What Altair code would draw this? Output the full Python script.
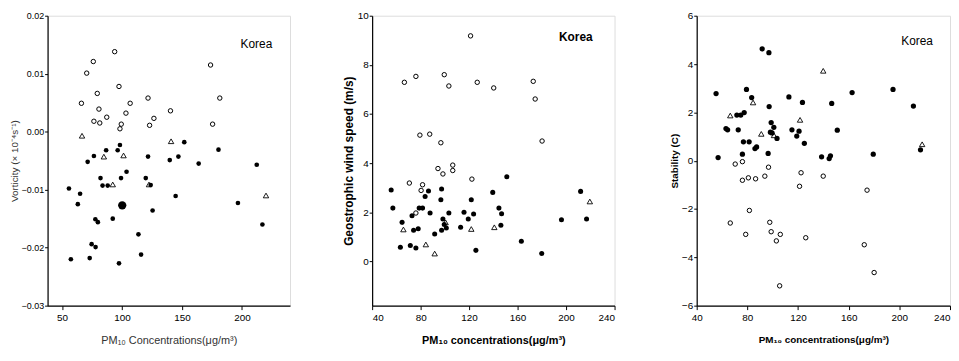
import altair as alt
import pandas as pd

# ---------------- Panel 1: vorticity ----------------
p1_open_x = [93.9, 76.1, 70.6, 97.5, 79.4, 66.2, 80.8, 106.8, 121.7, 103.3, 87.3, 76.6, 81.5, 99.4, 98.3, 126.6, 123.0, 140.4, 173.8, 181.5, 175.5]
p1_open_y = [0.0138, 0.0121, 0.0101, 0.0078, 0.0066, 0.0049, 0.0039, 0.0049, 0.0058, 0.0032, 0.0025, 0.0018, 0.0015, 0.0013, 0.0005, 0.0023, 0.0011, 0.0036, 0.0115, 0.0058, 0.0013]
p1_tri_x = [66.7, 84.9, 101.3, 92.3, 122.5, 140.9, 220.0]
p1_tri_y = [-0.0007, -0.0043, -0.0041, -0.0091, -0.0091, -0.00165, -0.0110]
p1_fill_x = [86.8, 98.3, 96.4, 76.6, 71.4, 121.7, 139.8, 147.0, 151.9, 180.4, 163.9, 212.3, 103.8, 82.1, 99.2, 83.8, 88.1, 119.8, 123.9, 55.8, 65.1, 63.2, 125.5, 144.7, 196.6, 217.0, 77.8, 79.9, 92.3, 113.7, 74.7, 78.0, 115.9, 57.4, 73.1, 97.5]
p1_fill_y = [-0.0032, -0.0023, -0.0032, -0.0042, -0.0052, -0.0043, -0.0049, -0.0043, -0.0018, -0.0031, -0.0055, -0.0057, -0.0069, -0.0080, -0.0080, -0.0093, -0.0093, -0.0080, -0.0092, -0.0098, -0.0107, -0.0125, -0.0136, -0.0111, -0.0123, -0.0160, -0.0151, -0.0156, -0.0150, -0.0177, -0.0194, -0.0199, -0.0212, -0.0220, -0.0218, -0.0227]
p1_big_x = [100.2]
p1_big_y = [-0.0127]

# ---------------- Panel 2: geostrophic wind speed ----------------
p2_open_x = [121.2, 66.6, 76.1, 99.5, 103.3, 126.7, 140.3, 79.4, 87.5, 96.7, 94.3, 98.4, 106.5, 106.5, 70.7, 81.6, 80.4, 122.3, 76.1, 172.9, 174.5, 180.2]
p2_open_y = [9.18, 7.29, 7.53, 7.60, 7.14, 7.29, 7.06, 5.14, 5.18, 4.83, 3.78, 3.56, 3.92, 3.70, 3.19, 3.12, 2.89, 3.35, 1.97, 7.33, 6.61, 4.90]
p2_tri_x = [65.8, 84.3, 91.6, 100.6, 121.8, 140.8, 219.6]
p2_tri_y = [1.30, 0.69, 0.32, 1.59, 1.32, 1.39, 2.44]
p2_fill_x = [55.7, 57.1, 64.7, 63.3, 71.5, 76.1, 74.2, 78.0, 72.9, 78.8, 81.6, 83.7, 86.5, 87.8, 91.6, 97.3, 96.7, 98.4, 99.5, 97.3, 101.2, 103.3, 113.0, 115.8, 119.3, 121.8, 123.7, 125.6, 139.5, 151.1, 144.6, 146.8, 146.2, 163.1, 179.9, 196.2, 212.0, 216.9]
p2_fill_y = [2.91, 2.17, 1.59, 0.58, 0.65, 0.55, 1.27, 1.33, 1.86, 2.17, 2.17, 2.64, 2.87, 1.97, 1.12, 2.95, 2.51, 1.73, 1.50, 1.27, 1.36, 1.97, 1.39, 2.00, 1.73, 2.51, 1.93, 0.45, 2.81, 3.45, 2.17, 1.94, 1.47, 0.82, 0.32, 1.70, 2.85, 1.73]

# ---------------- Panel 3: stability ----------------
p3_open_x = [70.4, 76.1, 96.7, 76.1, 80.8, 86.5, 93.8, 122.4, 121.2, 81.6, 66.5, 78.7, 97.7, 98.8, 102.9, 106.0, 126.1, 105.5, 139.9, 174.5, 172.3, 180.1]
p3_open_y = [-0.14, -0.04, -0.27, -0.81, -0.71, -0.75, -0.64, -0.50, -1.06, -2.06, -2.58, -3.05, -2.55, -2.94, -3.32, -3.05, -3.19, -5.18, -0.64, -1.22, -3.48, -4.63]
p3_tri_x = [66.5, 84.5, 91.0, 101.0, 121.6, 139.9, 218.0]
p3_tri_y = [1.87, 2.41, 1.11, 1.05, 1.69, 3.72, 0.68]
p3_fill_x = [91.7, 97.0, 55.3, 79.3, 83.4, 112.8, 123.5, 97.2, 71.7, 74.8, 77.5, 63.1, 64.4, 72.8, 98.8, 100.9, 98.2, 99.5, 103.4, 115.2, 119.0, 120.8, 125.0, 76.9, 81.4, 76.1, 86.0, 87.3, 96.4, 56.9, 162.7, 195.0, 146.6, 211.1, 151.0, 138.6, 144.6, 145.6, 179.4, 216.7]
p3_fill_y = [4.63, 4.47, 2.78, 2.95, 2.61, 2.64, 2.41, 2.24, 1.89, 1.89, 1.99, 1.33, 1.28, 1.28, 1.58, 1.38, 1.18, 1.15, 0.92, 1.28, 1.02, 1.22, 0.72, 0.78, 0.78, 0.27, 0.50, 0.57, 0.30, 0.13, 2.82, 2.95, 2.37, 2.26, 1.26, 0.16, 0.09, 0.20, 0.27, 0.45]

label_text = ["Korea"]
p1_label = ([212], [0.0152])
p2_label = ([208], [9.15])
p3_label = ([214], [4.94])

NARROW = "Liberation Sans Narrow, Arial Narrow, Liberation Sans, Arial, sans-serif"
REG = "Liberation Sans, Arial, sans-serif"


def make_df(open_x, open_y, tri_x, tri_y, fill_x, fill_y, big_x=None, big_y=None):
    rows = []
    rows += [{"pm": x, "v": y, "g": "open"} for x, y in zip(open_x, open_y)]
    rows += [{"pm": x, "v": y, "g": "tri"} for x, y in zip(tri_x, tri_y)]
    rows += [{"pm": x, "v": y, "g": "fill"} for x, y in zip(fill_x, fill_y)]
    if big_x:
        rows += [{"pm": x, "v": y, "g": "big"} for x, y in zip(big_x, big_y)]
    return pd.DataFrame(rows)


def panel(df, lab, xdom, xvals, ydom, yvals, yfmt, xtitle, ytitle, font, title_weight,
          title_color, ysize, xsize, korea_weight, width, ylabsize=10, xaxis_extra=None,
          fill_size=22):
    x_axis = dict(values=xvals, title=xtitle, labelFont=font, labelFontSize=10,
                  titleFont=font, titleFontSize=xsize, titleFontWeight=title_weight,
                  titleColor=title_color, tickSize=4, labelPadding=3, titlePadding=12,
                  grid=False, domainColor="black", tickColor="black", labelColor="black",
                  domainWidth=1.2)
    if xaxis_extra:
        x_axis.update(xaxis_extra)
    y_axis = dict(values=yvals, format=yfmt, title=ytitle, labelFont=font, labelFontSize=ylabsize,
                  titleFont=font, titleFontSize=ysize, titleFontWeight=title_weight,
                  titleColor=title_color, tickSize=3, labelPadding=1, titlePadding=2,
                  grid=False, domainColor="black", tickColor="black", labelColor="black",
                  domainWidth=1.2)
    xenc = alt.X("pm:Q", scale=alt.Scale(domain=xdom, zero=False, nice=False), axis=alt.Axis(**x_axis))
    yenc = alt.Y("v:Q", scale=alt.Scale(domain=ydom, zero=False, nice=False), axis=alt.Axis(**y_axis))
    base = alt.Chart(df).encode(x=xenc, y=yenc)
    filled = base.transform_filter("datum.g == 'fill'").mark_point(
        shape="circle", filled=True, color="black", size=fill_size, opacity=1)
    big = base.transform_filter("datum.g == 'big'").mark_point(
        shape="circle", filled=True, color="black", size=70, opacity=1)
    opn = base.transform_filter("datum.g == 'open'").mark_point(
        shape="circle", filled=False, color="black", size=20, strokeWidth=1, opacity=1)
    tri = base.transform_filter("datum.g == 'tri'").mark_point(
        shape="triangle-up", filled=False, color="black", size=30, strokeWidth=0.9, opacity=1)
    ldf = pd.DataFrame({"pm": lab[0], "v": lab[1], "t": label_text})
    txt = alt.Chart(ldf).mark_text(font=font, fontSize=12, fontWeight=korea_weight,
                                   color="black", align="center", baseline="middle").encode(
        x=alt.X("pm:Q", scale=alt.Scale(domain=xdom, zero=False, nice=False)),
        y=alt.Y("v:Q", scale=alt.Scale(domain=ydom, zero=False, nice=False)),
        text="t:N")
    return alt.layer(filled, big, opn, tri, txt).properties(width=width, height=293)


df1 = make_df(p1_open_x, p1_open_y, p1_tri_x, p1_tri_y, p1_fill_x, p1_fill_y, p1_big_x, p1_big_y)
df2 = make_df(p2_open_x, p2_open_y, p2_tri_x, p2_tri_y, p2_fill_x, p2_fill_y)
df3 = make_df(p3_open_x, p3_open_y, p3_tri_x, p3_tri_y, p3_fill_x, p3_fill_y)

c1 = panel(df1, p1_label, [38, 240], [50, 100, 150, 200], [-0.03, 0.02],
           [-0.03, -0.02, -0.01, 0.0, 0.01, 0.02], ".2f",
           "PM₁₀ Concentrations(μg/m³)", "Vorticity (× 10⁻⁴s⁻¹)", NARROW, "normal",
           "#333", 10, 11, "normal", 245, ylabsize=9)
c2 = panel(df2, p2_label, [40, 240], list(range(40, 241, 20)), [-1.8, 10],
           [0, 2, 4, 6, 8, 10], "d",
           "PM₁₀ concentrations(μg/m³)", "Geostrophic wind speed (m/s)", NARROW, "bold",
           "black", 12, 11, "bold", 245, fill_size=26)
c3 = panel(df3, p3_label, [40, 240], list(range(40, 241, 20)), [-6, 6],
           [-6, -4, -2, 0, 2, 4, 6], "d",
           "PM₁₀ concentrations(μg/m³)", "Stability (C)", REG, "bold",
           "black", 10, 10, "normal", 256, fill_size=28,
           xaxis_extra={"labelAlign": {"condition": {"test": "datum.value == 240", "value": "right"}, "value": "center"}})

chart = alt.hconcat(c1, c2, c3, spacing=83, bounds="flush").properties(
    padding={"left": 0, "top": 0, "right": 0, "bottom": 0}
).configure_view(stroke="black", strokeWidth=1.2).configure(background="white")

chart.save("out.html", embed_options={"renderer": "svg", "actions": False})
